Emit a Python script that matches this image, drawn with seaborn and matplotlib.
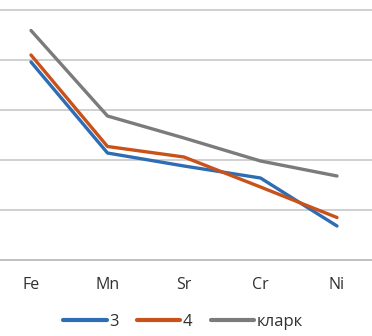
import pandas as pd
import matplotlib
matplotlib.use('Agg')
import matplotlib.pyplot as plt
import seaborn as sns

sns.set_style('white')
plt.rcParams['font.family'] = ['Open Sans', 'DejaVu Sans']

# data (grid step = 1 unit)
elements = ['Fe', 'Mn', 'Sr', 'Cr', 'Ni']
s3 = [3.96, 2.14, 1.88, 1.64, 0.68]
s4 = [4.10, 2.27, 2.06, 1.46, 0.85]
clarke = [4.59, 2.88, 2.44, 1.98, 1.68]
series_names = ['3', '4', 'кларк']
colors = ['#2E6DB4', '#C9511A', '#7B7B7B']

df = pd.DataFrame({
    'element': elements * 3,
    'value': s3 + s4 + clarke,
    'series': [series_names[0]] * 5 + [series_names[1]] * 5 + [series_names[2]] * 5,
})

fig = plt.figure(figsize=(3.72, 3.36), dpi=100)
ax = fig.add_axes([0, 1 - 260 / 336, 1, 260 / 336])

sns.lineplot(data=df, x='element', y='value', hue='series', palette=colors,
             sort=False, linewidth=2.4, ax=ax, legend=False)

ax.set_xlim(-31 / 76.5, 4 + 35 / 76.5)
ax.set_ylim(0, 5.2)
ax.set_yticks([1, 2, 3, 4, 5])
ax.yaxis.grid(True, color='#D0D0D0', linewidth=1.4)
ax.set_yticklabels([])
ax.tick_params(axis='both', length=0)
ax.tick_params(axis='x', pad=12, labelsize=11.5, colors='#303030')
for s in ['left', 'right', 'top']:
    ax.spines[s].set_visible(False)
ax.spines['bottom'].set_color('#C0C0C0')
ax.spines['bottom'].set_linewidth(1.4)
ax.set_xlabel('')
ax.set_ylabel('')

handles = [plt.Line2D([], [], color=c, linewidth=3, solid_capstyle='round') for c in colors]
fig.legend(handles, series_names, loc='center', bbox_to_anchor=(183 / 372, 1 - 322 / 336),
           ncol=3, frameon=False, fontsize=12, handlelength=2.6, handletextpad=0.15,
           columnspacing=1.1, labelcolor='#303030')

fig.savefig('out.png', dpi=100)
